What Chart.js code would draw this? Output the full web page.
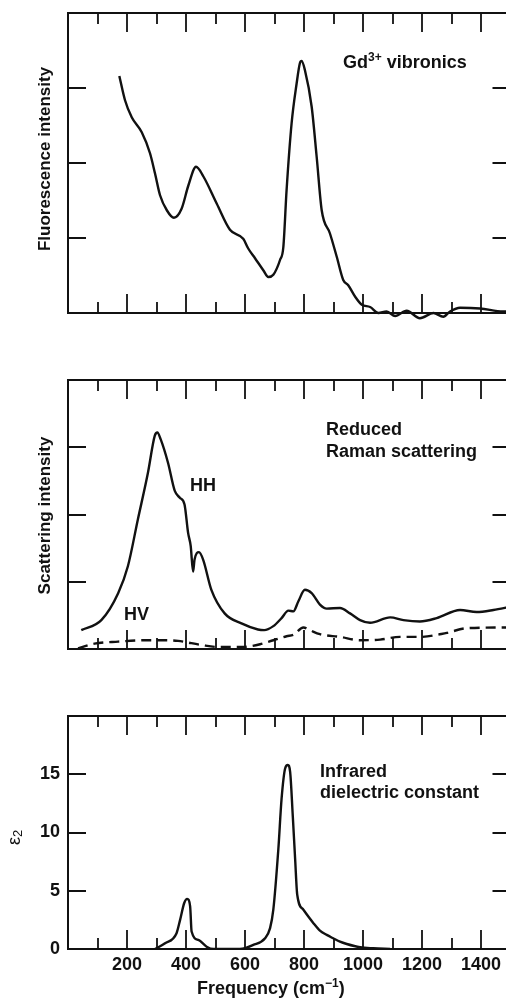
<!DOCTYPE html>
<html>
<head>
<meta charset="utf-8">
<script src="https://cdn.jsdelivr.net/npm/chart.js@4.4.1/dist/chart.umd.min.js"></script>
<style>
  html, body { margin: 0; padding: 0; background: #fff; overflow: hidden; }
  #page { position: relative; width: 506px; height: 998px; overflow: hidden; }
  canvas { position: absolute; left: 0; }
</style>
</head>
<body>
<div id="page">
  <canvas id="fluo" width="520" height="330" style="top:0px"></canvas>
  <canvas id="raman" width="520" height="330" style="top:330px"></canvas>
  <canvas id="ir" width="520" height="338" style="top:660px"></canvas>
</div>
<script>
// Gd3+ vibronic fluorescence (frequency in cm-1, arbitrary intensity)
const fluoX = [174, 193, 216, 250, 278, 295, 312, 335, 359, 385, 408, 434, 459, 504, 549, 594, 611, 634, 662, 679, 696, 719, 730, 741, 758, 775, 786, 792, 803, 826, 843, 860, 888, 911, 933, 950, 973, 996, 1024, 1052, 1080, 1109, 1148, 1193, 1239, 1272, 1295, 1329, 1397, 1475, 1500];
const fluoY = [3.16, 2.84, 2.61, 2.41, 2.13, 1.86, 1.57, 1.37, 1.27, 1.39, 1.70, 1.95, 1.82, 1.46, 1.11, 0.99, 0.86, 0.73, 0.57, 0.48, 0.51, 0.71, 0.88, 1.64, 2.53, 3.06, 3.33, 3.36, 3.24, 2.75, 2.08, 1.37, 1.06, 0.75, 0.44, 0.37, 0.22, 0.11, 0.08, 0.00, 0.02, -0.04, 0.03, -0.07, 0.00, -0.05, 0.02, 0.07, 0.06, 0.02, 0.02];

// Reduced Raman scattering, HH polarisation
const hhX = [45, 113, 170, 203, 237, 271, 294, 303, 314, 339, 362, 379, 395, 407, 416, 424, 429, 444, 458, 486, 531, 588, 644, 665, 696, 724, 747, 764, 781, 803, 826, 854, 877, 922, 956, 990, 1024, 1092, 1137, 1193, 1250, 1329, 1385, 1442, 1500];
const hhY = [0.28, 0.43, 0.83, 1.23, 1.93, 2.62, 3.17, 3.22, 3.12, 2.77, 2.35, 2.25, 2.15, 1.73, 1.53, 1.15, 1.33, 1.44, 1.33, 0.88, 0.53, 0.38, 0.29, 0.28, 0.34, 0.46, 0.57, 0.56, 0.71, 0.88, 0.83, 0.66, 0.60, 0.61, 0.53, 0.43, 0.39, 0.47, 0.43, 0.41, 0.46, 0.58, 0.55, 0.58, 0.63];

// Reduced Raman scattering, HV polarisation (dashed)
const hvX = [34, 90, 170, 260, 316, 373, 452, 508, 588, 651, 696, 741, 764, 798, 820, 854, 922, 990, 1058, 1125, 1193, 1284, 1352, 1500];
const hvY = [0.01, 0.08, 0.11, 0.13, 0.13, 0.12, 0.06, 0.03, 0.03, 0.07, 0.13, 0.19, 0.21, 0.32, 0.28, 0.22, 0.18, 0.13, 0.14, 0.18, 0.18, 0.24, 0.31, 0.32];

// Infrared dielectric constant, epsilon 2
const irX = [295, 329, 368, 380, 394, 404, 414, 419, 442, 470, 493, 583, 628, 668, 685, 696, 713, 724, 736, 745, 753, 762, 770, 777, 798, 832, 854, 877, 899, 922, 945, 990, 1035, 1092];
const irY = [0, 0.49, 1.36, 2.5, 3.95, 4.3, 3.66, 1.5, 0.78, 0.2, 0, 0, 0.35, 0.93, 1.79, 3.37, 8.56, 12.9, 15.5, 15.8, 15.2, 11.4, 7.7, 4.67, 3.37, 2.22, 1.58, 1.21, 0.92, 0.63, 0.43, 0.15, 0.06, 0];

const xLabels = [200, 400, 600, 800, 1000, 1200, 1400];
const epsLabels = [0, 5, 10, 15];

const INK = '#111';
const FONT = 'Liberation Sans, Arial, sans-serif';

Chart.defaults.font.family = FONT;
Chart.defaults.font.size = 18;
Chart.defaults.font.weight = 'bold';
Chart.defaults.color = INK;

function points(xs, ys) {
    return xs.map((x, i) => ({ x: x, y: ys[i] }));
}

// draw a run of text pieces (for super/subscripts)
function drawRuns(ctx, item) {
    ctx.save();
    ctx.translate(item.x, item.y);
    if (item.rotate) ctx.rotate(item.rotate);
    ctx.fillStyle = INK;
    ctx.textBaseline = 'alphabetic';
    let runs = item.runs;
    let total = 0;
    runs.forEach(r => {
        ctx.font = (r.weight || 'bold') + ' ' + (r.size || 18) + 'px ' + FONT;
        total += ctx.measureText(r.t).width;
    });
    let cx = item.center ? -total / 2 : 0;
    runs.forEach(r => {
        ctx.font = (r.weight || 'bold') + ' ' + (r.size || 18) + 'px ' + FONT;
        ctx.fillText(r.t, cx, r.dy || 0);
        cx += ctx.measureText(r.t).width;
    });
    ctx.restore();
}

// frame, inward tick marks and text labels
const framePlugin = {
    id: 'frame',
    afterDraw(chart, args, opts) {
        const { ctx, chartArea: a, scales } = chart;
        ctx.save();
        ctx.strokeStyle = INK;
        ctx.lineWidth = 2;
        ctx.strokeRect(a.left, a.top, a.right - a.left, a.bottom - a.top);
        ctx.lineWidth = 1.8;
        ctx.beginPath();
        scales.x.ticks.forEach(t => {
            if (t.value <= scales.x.min || t.value >= scales.x.max) return;
            const px = Math.round(scales.x.getPixelForValue(t.value));
            const len = t.value % 200 === 0 ? 19 : 11;
            ctx.moveTo(px, a.bottom); ctx.lineTo(px, a.bottom - len);
            ctx.moveTo(px, a.top); ctx.lineTo(px, a.top + len);
        });
        scales.y.ticks.forEach(t => {
            if (t.value <= scales.y.min || t.value >= scales.y.max) return;
            const py = Math.round(scales.y.getPixelForValue(t.value));
            ctx.moveTo(a.left, py); ctx.lineTo(a.left + 18, py);
            ctx.moveTo(a.right, py); ctx.lineTo(a.right - 18, py);
        });
        ctx.stroke();
        ctx.restore();
        (opts.texts || []).forEach(item => drawRuns(chart.ctx, item));
    }
};

function makeChart(id, datasets, cfg) {
    return new Chart(document.getElementById(id), {
        type: 'line',
        data: { datasets: datasets },
        options: {
            responsive: false,
            animation: false,
            devicePixelRatio: 1,
            layout: { padding: { top: cfg.top, right: 9.5, left: 0, bottom: 0 } },
            elements: {
                point: { radius: 0 },
                line: { borderColor: INK, borderWidth: 2.4, cubicInterpolationMode: 'monotone', fill: false }
            },
            plugins: {
                legend: { display: false },
                tooltip: { enabled: false },
                frame: { texts: cfg.texts }
            },
            scales: {
                x: {
                    type: 'linear',
                    min: 0,
                    max: 1500,
                    grid: { display: false, drawTicks: false },
                    border: { display: false },
                    ticks: {
                        display: cfg.xTicks,
                        stepSize: 100,
                        autoSkip: false,
                        maxRotation: 0,
                        padding: 5,
                        callback: v => xLabels.includes(v) ? String(v) : ''
                    },
                    afterFit: s => { s.height = cfg.xHeight; }
                },
                y: {
                    min: cfg.yMin,
                    max: cfg.yMax,
                    grid: { display: false, drawTicks: false },
                    border: { display: false },
                    ticks: {
                        display: cfg.yTicks,
                        stepSize: cfg.yStep,
                        padding: 8,
                        callback: v => epsLabels.includes(v) ? String(v) : ''
                    },
                    afterFit: s => { s.width = 68; }
                }
            }
        },
        plugins: [framePlugin]
    });
}

makeChart('fluo', [
    { data: points(fluoX, fluoY), clip: false }
], {
    top: 13, xHeight: 17, yMin: 0, yMax: 4, yStep: 1, xTicks: false, yTicks: false,
    texts: [
        { x: 343, y: 68, runs: [{ t: 'Gd' }, { t: '3+', size: 12, dy: -7 }, { t: ' vibronics' }] },
        { x: 50, y: 159, rotate: -Math.PI / 2, center: true, runs: [{ t: 'Fluorescence intensity', size: 17 }] }
    ]
});

makeChart('raman', [
    { data: points(hhX, hhY) },
    { data: points(hvX, hvY), borderDash: [10, 6] }
], {
    top: 50, xHeight: 11, yMin: 0, yMax: 4, yStep: 1, xTicks: false, yTicks: false,
    texts: [
        { x: 326, y: 105, runs: [{ t: 'Reduced' }] },
        { x: 326, y: 126.7, runs: [{ t: 'Raman scattering' }] },
        { x: 190, y: 160.7, runs: [{ t: 'HH' }] },
        { x: 124, y: 290, runs: [{ t: 'HV' }] },
        { x: 50, y: 185.5, rotate: -Math.PI / 2, center: true, runs: [{ t: 'Scattering intensity', size: 17 }] }
    ]
});

makeChart('ir', [
    { data: points(irX, irY) }
], {
    top: 56, xHeight: 49, yMin: 0, yMax: 20, yStep: 5, xTicks: true, yTicks: true,
    texts: [
        { x: 320, y: 116.7, runs: [{ t: 'Infrared' }] },
        { x: 320, y: 137.7, runs: [{ t: 'dielectric constant' }] },
        { x: 197, y: 334, runs: [{ t: 'Frequency (cm' }, { t: '\u22121', size: 12, dy: -7 }, { t: ')' }] },
        { x: 20, y: 185, rotate: -Math.PI / 2, runs: [{ t: '\u03b5', weight: 'normal', size: 18 }, { t: '2', weight: 'normal', size: 13, dy: 2 }] }
    ]
});
</script>
</body>
</html>
